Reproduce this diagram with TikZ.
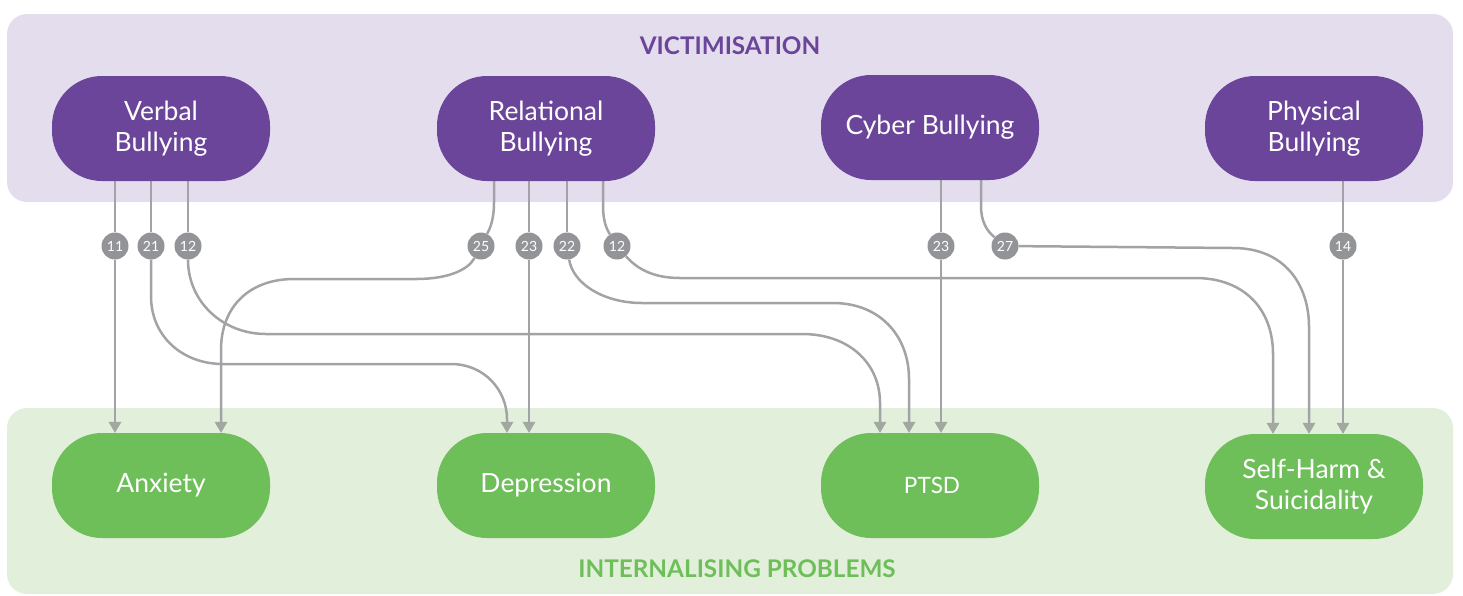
\documentclass[tikz,border=0pt]{standalone}
\usepackage{fontspec}
\setmainfont{Lato}
\usetikzlibrary{arrows.meta,calc}
\definecolor{vpurple}{HTML}{6B4599}
\definecolor{lpurple}{HTML}{E4DDEE}
\definecolor{vgreen}{HTML}{6EBE5A}
\definecolor{lgreen}{HTML}{E2EFDB}
\definecolor{linegray}{HTML}{A3A3A7}
\definecolor{badgegray}{HTML}{939497}
\definecolor{arrowgray}{HTML}{A0A89F}
\pgfdeclarelayer{bg}
\pgfdeclarelayer{lines}
\pgfsetlayers{bg,lines,main}
\tikzset{
  topnode/.style={fill=vpurple, text=white, rounded corners=50pt, minimum width=218pt, minimum height=105pt, inner sep=0pt, align=center, font=\fontsize{26.5}{31}\selectfont},
  botnode/.style={topnode, fill=vgreen},
  badge/.style={circle, fill=badgegray, text=white, minimum size=27pt, inner sep=0pt, font=\fontsize{14}{14}\selectfont},
  conn/.style={draw=linegray, line width=2.5pt},
  arr/.style={conn, -{Triangle[width=13pt,length=11pt,color=arrowgray,line width=0pt]}},
  bandtitle/.style={font=\fontsize{24.3}{24.3}\selectfont\bfseries}
}
\begin{document}
\begin{tikzpicture}[x=1pt,y=-1pt]
\useasboundingbox (0,0) rectangle (1463,595);
\begin{pgfonlayer}{bg}
\fill[lpurple, rounded corners=20pt] (7,14) rectangle (1453,202);
\fill[lgreen, rounded corners=20pt] (7,408) rectangle (1453,594);
\end{pgfonlayer}
\node[bandtitle, text=vpurple] (ttop) at (730,46) {VICTIMISATION};
\node[bandtitle, text=vgreen] (tbot) at (737,569) {INTERNALISING PROBLEMS};
% top nodes
\node[topnode] (verbal) at (161,128.5) {Verbal\\Bullying};
\node[topnode] (rel) at (546,128.5) {Relational\\Bullying};
\node[topnode] (cyber) at (930,127.5) {Cyber Bullying};
\node[topnode] (phys) at (1314,128.5) {Physical\\Bullying};
% bottom nodes
\node[botnode] (anx) at (161,485.5) {Anxiety};
\node[botnode] (dep) at (546,485.5) {Depression};
\node[botnode, font=\fontsize{22.5}{26}\selectfont, text width=218pt, align=center] (ptsd) at (930,485.5) {\hspace*{4pt}PTSD};
\node[botnode] (self) at (1314,486.5) {Self-Harm \&\\Suicidality};
% badges
\node[badge] (b11) at (115,246) {11};
\node[badge] (b21) at (151,246) {21};
\node[badge] (b12a) at (188,246) {12};
\node[badge] (b25) at (481,246) {25};
\node[badge] (b23a) at (529,246) {23};
\node[badge] (b22) at (567,246) {22};
\node[badge] (b12b) at (617,246) {12};
\node[badge] (b23b) at (941,246) {23};
\node[badge] (b27) at (1005,246) {27};
\node[badge] (b14) at (1343,246) {14};
\begin{pgfonlayer}{lines}
% Verbal
\draw[conn] ($(verbal.south)+(-46,0)$) -- (b11);
\draw[arr] (b11) -- ($(anx.north)+(-46,0)$);
\draw[conn] ($(verbal.south)+(-10,0)$) -- (b21);
\draw[arr] (b21) -- (151,296) .. controls (151,337) and (183,364) .. (223,364) -- (451,364) .. controls (484,364) and (507,390) .. (507,419) -- ($(dep.north)+(-39,0)$);
\draw[conn] ($(verbal.south)+(27,0)$) -- (b12a);
\draw[arr] (b12a) .. controls (188,302) and (223,334) .. (266,334) -- (802,334) .. controls (850,334) and (880,364) .. (880,403) -- ($(ptsd.north)+(-50,0)$);
% Relational
\draw[conn] ($(rel.south)+(-52,0)$) -- (494,202) .. controls (494,222) and (489,230) .. (b25);
\draw[arr] (b25) .. controls (468,270) and (448,279) .. (416,279) -- (294,279) .. controls (250,279) and (221,306) .. (221,350) -- ($(anx.north)+(60,0)$);
\draw[conn] ($(rel.south)+(-17,0)$) -- (b23a);
\draw[arr] (b23a) -- ($(dep.north)+(-17,0)$);
\draw[conn] ($(rel.south)+(21,0)$) -- (b22);
\draw[arr] (b22) .. controls (573,284) and (604,303) .. (642,303) -- (833,303) .. controls (880,303) and (909,336) .. (909,379) -- ($(ptsd.north)+(-21,0)$);
\draw[conn] ($(rel.south)+(57,0)$) -- (603,205) .. controls (603,220) and (606,228) .. (b12b);
\draw[arr] (b12b) .. controls (638,270) and (655,278) .. (680,278) -- (1195,278) .. controls (1245,278) and (1273,310) .. (1273,354) -- ($(self.north)+(-41,0)$);
% Cyber
\draw[conn] ($(cyber.south)+(11,0)$) -- (b23b);
\draw[arr] (b23b) -- ($(ptsd.north)+(11,0)$);
\draw[conn] ($(cyber.south)+(51,0)$) -- (981,206) .. controls (981,222) and (987,231) .. (b27);
\draw[arr] (b27) -- (1233,248) .. controls (1285,248) and (1309,285) .. (1309,327) -- ($(self.north)+(-5,0)$);
% Physical
\draw[conn] ($(phys.south)+(29,0)$) -- (b14);
\draw[arr] (b14) -- ($(self.north)+(29,0)$);
\end{pgfonlayer}
\end{tikzpicture}
\end{document}
